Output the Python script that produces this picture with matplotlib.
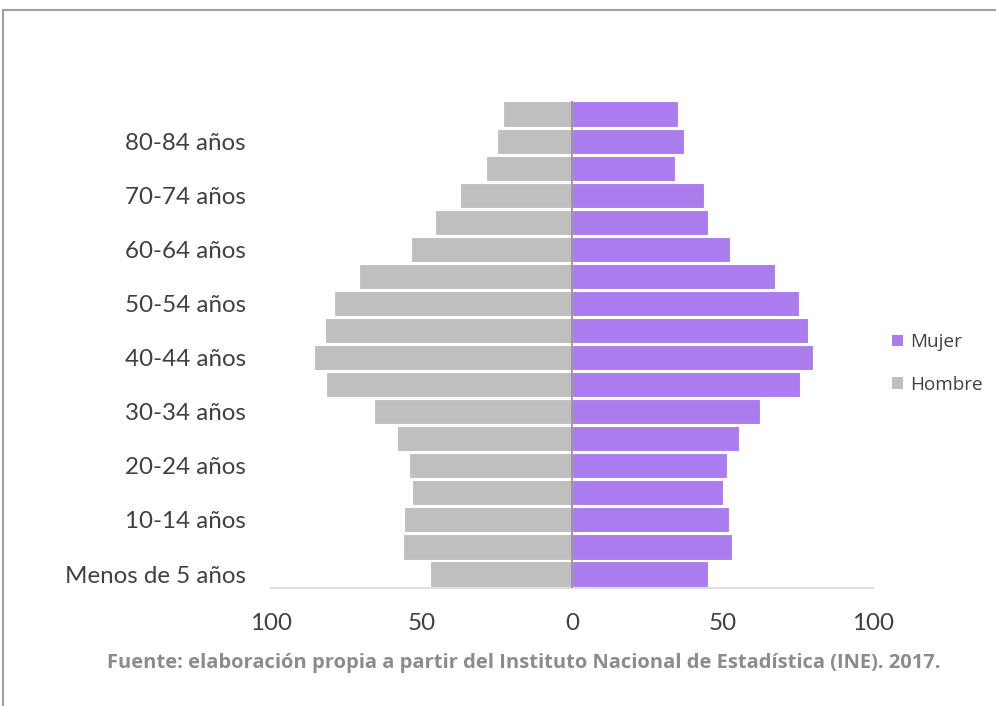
import matplotlib
matplotlib.use("Agg")
import matplotlib.pyplot as plt
from matplotlib.lines import Line2D
from matplotlib.patches import Patch
import numpy as np

# Population by five-year age group (youngest first)
edades = ["Menos de 5 años", "5-9 años", "10-14 años", "15-19 años", "20-24 años",
          "25-29 años", "30-34 años", "35-39 años", "40-44 años", "45-49 años",
          "50-54 años", "55-59 años", "60-64 años", "65-69 años", "70-74 años",
          "75-79 años", "80-84 años", "85 y más años"]
hombres = [47.2, 56.1, 55.7, 53.0, 54.2, 58.1, 65.7, 81.7, 85.6, 82.0,
           79.0, 70.7, 53.5, 45.4, 37.1, 28.7, 25.0, 22.8]
mujeres = [45.2, 53.2, 52.3, 50.3, 51.4, 55.6, 62.5, 75.6, 80.1, 78.3,
           75.5, 67.5, 52.5, 45.3, 43.7, 34.3, 37.3, 35.3]
xticks = [-100, -50, 0, 50, 100]
xticklabels = ["100", "50", "0", "50", "100"]
fuente = "Fuente: elaboración propia a partir del Instituto Nacional de Estadística (INE). 2017."

col_mujer = "#AA7CEE"
col_hombre = "#BFBFBF"
col_text = "#404040"

fig = plt.figure(figsize=(9.96, 7.06), dpi=100)
ax = fig.add_axes([0.2721, 0.1678, 0.6044, 0.6898])

y = np.arange(len(edades))
ax.barh(y, [-v for v in hombres], height=0.93, color=col_hombre,
        edgecolor="white", linewidth=0.8, label="Hombre", zorder=2)
ax.barh(y, mujeres, height=0.93, color=col_mujer,
        edgecolor="white", linewidth=0.8, label="Mujer", zorder=2)

ax.set_xlim(-100, 100)
ax.set_ylim(-0.5, len(edades) - 0.5)
ax.set_xticks(xticks)
ax.set_xticklabels(xticklabels)
ax.set_yticks(y[::2])
ax.set_yticklabels(edades[::2])

for s in ["top", "right", "left"]:
    ax.spines[s].set_visible(False)
ax.spines["bottom"].set_color("#D9D9D9")
ax.spines["bottom"].set_linewidth(1.2)
ax.axvline(0, color="#8C8C8C", linewidth=1.2, zorder=3)

ax.tick_params(axis="both", length=0, labelsize=17.4, labelcolor=col_text)
ax.tick_params(axis="y", pad=18)
ax.tick_params(axis="x", pad=18.5)
for lab in ax.get_xticklabels() + ax.get_yticklabels():
    lab.set_fontfamily("Lato")

handles = [Patch(facecolor=col_mujer, label="Mujer"),
           Patch(facecolor=col_hombre, label="Hombre")]
leg = fig.legend(handles=handles, loc="center left",
                 bbox_to_anchor=(0.879, 0.485), frameon=False,
                 prop={"family": "Open Sans", "size": 13.6},
                 handlelength=0.55, handleheight=0.55, handletextpad=0.4,
                 labelspacing=1.3, labelcolor=col_text)

fig.text(0.526, 0.061, fuente, ha="center", va="center",
         fontsize=14.5, fontweight="bold", color="#8C8C8C", family="Open Sans")

# chart frame (top and left edges)
fig.add_artist(Line2D([0.0035, 0.0035], [0.0, 0.986], color="#A0A0A0", linewidth=1.5))
fig.add_artist(Line2D([0.0035, 1.0], [0.986, 0.986], color="#A0A0A0", linewidth=1.5))

fig.savefig("out.png", dpi=100, facecolor="white")
